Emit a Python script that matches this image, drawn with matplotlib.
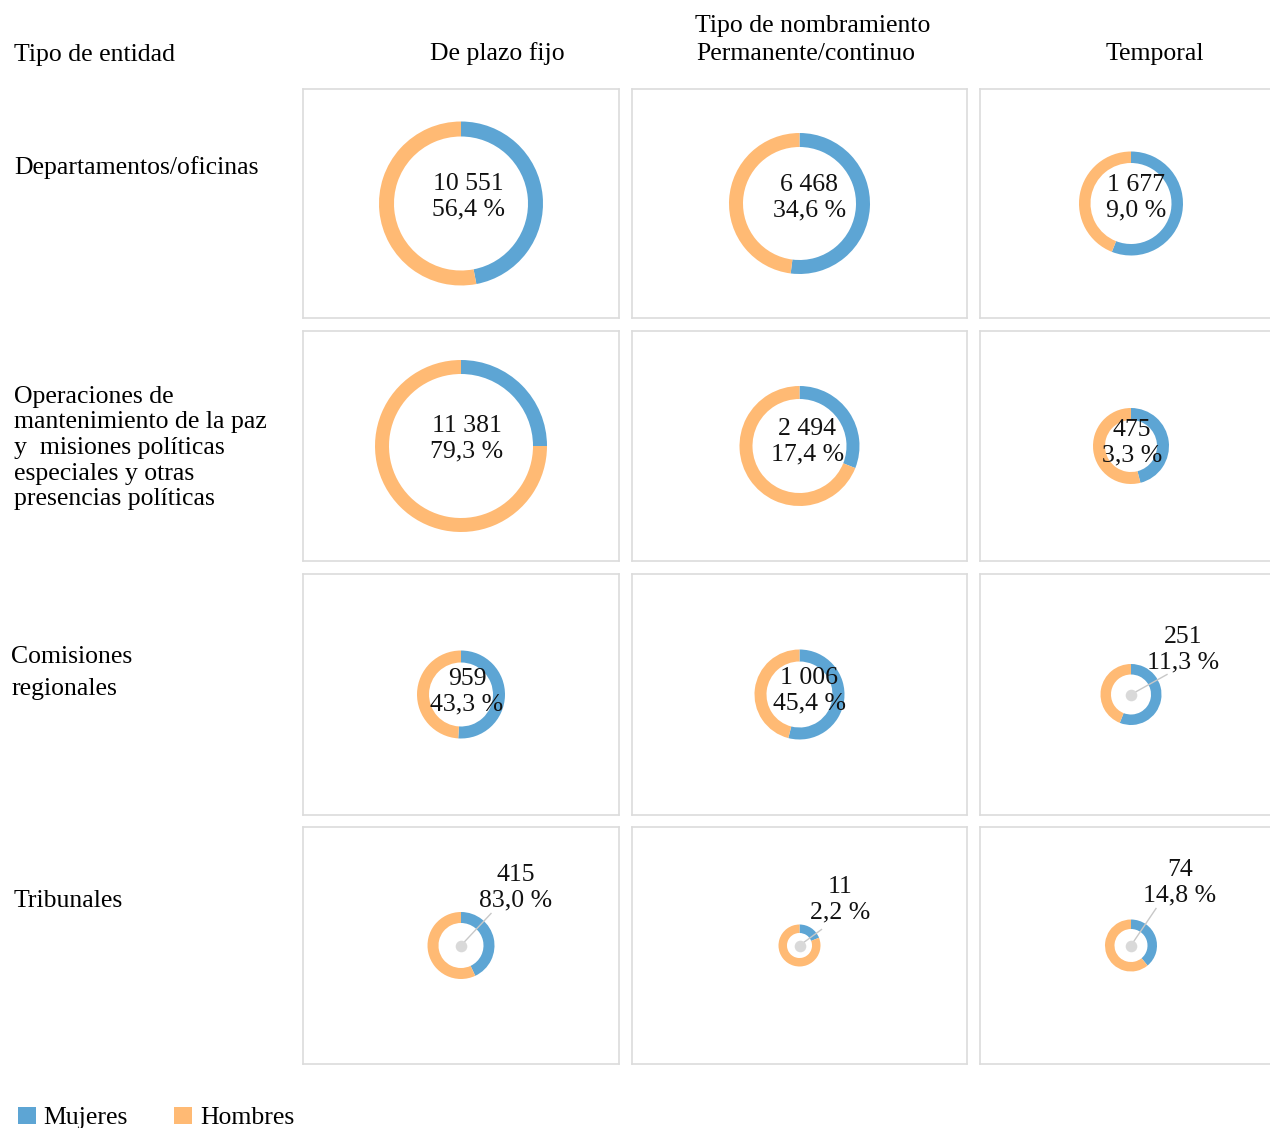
import matplotlib
matplotlib.use("Agg")
import matplotlib.pyplot as plt
from matplotlib.patches import Patch

# ---------------- data ----------------
entity_types = [
    "Departamentos/oficinas",
    "Operaciones de\nmantenimiento de la paz\ny  misiones políticas\nespeciales y otras\npresencias políticas",
    "Comisiones\nregionales",
    "Tribunales",
]
appointment_types = ["De plazo fijo", "Permanente/continuo", "Temporal"]
header_group = "Tipo de nombramiento"
header_entity = "Tipo de entidad"
series_names = ["Mujeres", "Hombres"]

# staff counts per entity (rows) and appointment type (columns)
counts = [
    [10551, 6468, 1677],
    [11381, 2494, 475],
    [959, 1006, 251],
    [415, 11, 74],
]
# share of the entity's staff in that appointment type (%)
share_pct = [
    [56.4, 34.6, 9.0],
    [79.3, 17.4, 3.3],
    [43.3, 45.4, 11.3],
    [83.0, 2.2, 14.8],
]
# women's share of each group (%), read from the rings
women_pct = [
    [47, 52, 56],
    [25, 31, 46],
    [51, 54, 56],
    [43, 19, 39],
]

# ---------------- layout / style ----------------
W, H = 1270, 1128
fig = plt.figure(figsize=(W / 100, H / 100), dpi=100)
plt.rcParams["font.family"] = ["Liberation Serif", "DejaVu Serif"]
FS = 18.5
BLUE = "#5DA5D4"
ORANGE = "#FFBA74"
SPINE = "#DCDCDC"
LABEL_LS = 1.2

col_x = [(303, 619), (632, 967), (980, 1282)]
row_y = [(89, 318), (331, 561), (574, 815), (827, 1064)]

outer_r = [
    [82, 70.5, 52],
    [86, 60, 38],
    [44, 45, 30.5],
    [33.5, 21, 26],
]
ring_w = [
    [15, 14, 11.5],
    [14, 13, 12],
    [12, 12, 10.5],
    [11, 8.5, 9.5],
]
# outside labels: (label centre offset), (leader end offset) in px, dy measured downward
outside = {
    (2, 2): ((52, -45), (36, -20)),
    (3, 0): ((55, -58), (30, -32)),
    (3, 1): ((41, -46), (22, -16)),
    (3, 2): ((49, -63), (25, -37)),
}
inside_off = [
    [(7, -7), (10, -6), (5, -6)],
    [(6, -7), (8, -4), (1, -3)],
    [(6, -3), (10, -4), (0, 0)],
    [(0, 0), (0, 0), (0, 0)],
]


def fx(x):
    return x / W


def fy(y):
    return 1 - y / H


def fmt_count(n):
    return f"{n:,}".replace(",", " ")


def fmt_pct(p):
    return f"{p:.1f}".replace(".", ",") + " %"


for i in range(len(entity_types)):
    for j in range(len(appointment_types)):
        x0, x1 = col_x[j]
        y0, y1 = row_y[i]
        w, h = x1 - x0, y1 - y0
        ax = fig.add_axes([fx(x0), fy(y1), w / W, h / H])
        cx, cy = w / 2, h / 2
        ax.pie(
            [women_pct[i][j], 100 - women_pct[i][j]],
            colors=[BLUE, ORANGE],
            startangle=90,
            counterclock=False,
            center=(cx, cy),
            radius=outer_r[i][j],
            wedgeprops=dict(width=ring_w[i][j], linewidth=0),
            frame=True,
        )
        ax.set_aspect("auto")
        ax.set_xlim(0, w)
        ax.set_ylim(0, h)
        ax.set_xticks([])
        ax.set_yticks([])
        for s in ax.spines.values():
            s.set_color(SPINE)
            s.set_linewidth(1.2)
        label = fmt_count(counts[i][j]) + "\n" + fmt_pct(share_pct[i][j])
        if (i, j) in outside:
            (ldx, ldy), (ex, ey) = outside[(i, j)]
            ax.plot([cx, cx + ex], [cy, cy - ey], color="#C8C8C8", lw=1.0, zorder=3)
            ax.scatter([cx], [cy], s=70, color="#D9D9D9", zorder=4, linewidths=0)
            ax.text(cx + ldx, cy - ldy, label, ha="center", va="center",
                    fontsize=FS, linespacing=LABEL_LS, color="#111111")
        else:
            dx, dy = inside_off[i][j]
            ax.text(cx + dx, cy - dy, label, ha="center", va="center",
                    fontsize=FS, linespacing=LABEL_LS, color="#111111")

# headers
fig.text(fx(14), fy(55), header_entity, ha="left", va="center", fontsize=FS)
fig.text(fx(497), fy(54), appointment_types[0], ha="center", va="center", fontsize=FS)
fig.text(fx(813), fy(26), header_group, ha="center", va="center", fontsize=FS)
fig.text(fx(806), fy(54), appointment_types[1], ha="center", va="center", fontsize=FS)
fig.text(fx(1155), fy(54), appointment_types[2], ha="center", va="center", fontsize=FS)

# row labels
row_label_y = [168, 448, 673, 901]
row_label_ls = [1.0, 1.22, 1.6, 1.0]
row_label_x = [14, 14, 11, 14]
for lab, yy, ls, xx in zip(entity_types, row_label_y, row_label_ls, row_label_x):
    fig.text(fx(xx), fy(yy), lab, ha="left", va="center", fontsize=FS, linespacing=ls)

# legend
handles = [Patch(facecolor=BLUE, label=series_names[0]),
           Patch(facecolor=ORANGE, label=series_names[1])]
fig.legend(handles=handles, loc="center left", bbox_to_anchor=(fx(18), fy(1118)),
           ncol=2, frameon=False, fontsize=FS, handlelength=0.7, handleheight=0.7,
           handletextpad=0.3, columnspacing=1.8, borderpad=0, borderaxespad=0)

fig.savefig("out.png", dpi=100)
